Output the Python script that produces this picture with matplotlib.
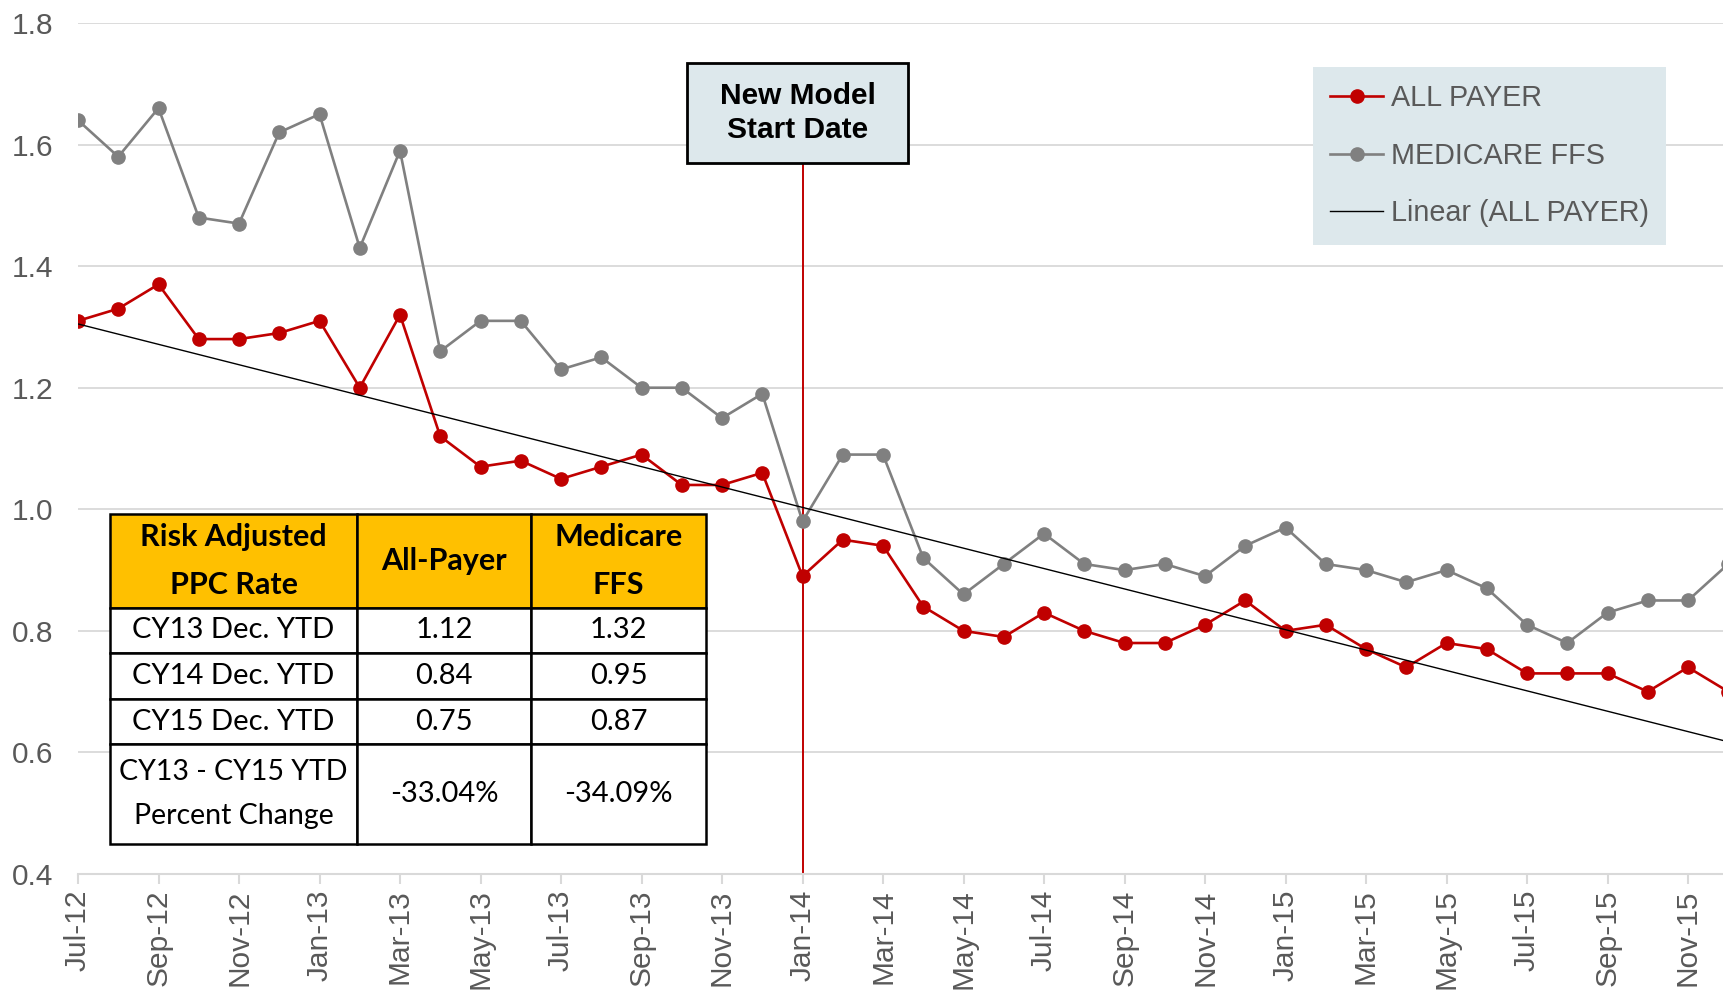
import numpy as np
import matplotlib
matplotlib.use("Agg")
import matplotlib.pyplot as plt
from matplotlib.patches import Rectangle
from matplotlib.lines import Line2D

# ---------------- data ----------------
months = ["Jul-12", "Aug-12", "Sep-12", "Oct-12", "Nov-12", "Dec-12",
          "Jan-13", "Feb-13", "Mar-13", "Apr-13", "May-13", "Jun-13",
          "Jul-13", "Aug-13", "Sep-13", "Oct-13", "Nov-13", "Dec-13",
          "Jan-14", "Feb-14", "Mar-14", "Apr-14", "May-14", "Jun-14",
          "Jul-14", "Aug-14", "Sep-14", "Oct-14", "Nov-14", "Dec-14",
          "Jan-15", "Feb-15", "Mar-15", "Apr-15", "May-15", "Jun-15",
          "Jul-15", "Aug-15", "Sep-15", "Oct-15", "Nov-15", "Dec-15"]

all_payer = [1.31, 1.33, 1.37, 1.28, 1.28, 1.29,
             1.31, 1.20, 1.32, 1.12, 1.07, 1.08, 1.05, 1.07, 1.09, 1.04, 1.04, 1.06,
             0.89, 0.95, 0.94, 0.84, 0.80, 0.79, 0.83, 0.80, 0.78, 0.78, 0.81, 0.85,
             0.80, 0.81, 0.77, 0.74, 0.78, 0.77, 0.73, 0.73, 0.73, 0.70, 0.74, 0.70]

medicare_ffs = [1.64, 1.58, 1.66, 1.48, 1.47, 1.62,
                1.65, 1.43, 1.59, 1.26, 1.31, 1.31, 1.23, 1.25, 1.20, 1.20, 1.15, 1.19,
                0.98, 1.09, 1.09, 0.92, 0.86, 0.91, 0.96, 0.91, 0.90, 0.91, 0.89, 0.94,
                0.97, 0.91, 0.90, 0.88, 0.90, 0.87, 0.81, 0.78, 0.83, 0.85, 0.85, 0.91]

y_ticks = [0.4, 0.6, 0.8, 1.0, 1.2, 1.4, 1.6, 1.8]
model_start = "Jan-14"

table_header = ["Risk Adjusted\nPPC Rate", "All-Payer", "Medicare\nFFS"]
table_row_labels = ["CY13 Dec. YTD", "CY14 Dec. YTD", "CY15 Dec. YTD",
                    "CY13 - CY15 YTD\nPercent Change"]
table_all_payer = ["1.12", "0.84", "0.75", "-33.04%"]
table_medicare = ["1.32", "0.95", "0.87", "-34.09%"]

# ---------------- style ----------------
W, H = 1723, 997
RED = "#C00000"
GRAY = "#808080"
TXT = "#595959"
GRID = "#D9D9D9"
PANEL = "#DDE8EC"
GOLD = "#FFC000"

plt.rcParams["font.family"] = ["Liberation Sans", "DejaVu Sans"]

fig = plt.figure(figsize=(W / 100, H / 100), dpi=100)

def fx(px):
    return px / W

def fy(py):
    return 1 - py / H

ax_left, ax_top, ax_bottom = 78, 23, 874
ax = fig.add_axes([fx(ax_left), fy(ax_bottom), 1 - fx(ax_left), (ax_bottom - ax_top) / H])

x = np.arange(len(months))
month_step = 40.25  # px per month
ax.set_xlim(0, (W - ax_left) / month_step)
ax.set_ylim(0.4, 1.8)

ax.yaxis.grid(True, color=GRID, lw=1.3)
ax.set_axisbelow(True)
for s in ["top", "right", "left"]:
    ax.spines[s].set_visible(False)
ax.spines["bottom"].set_color(GRID)
ax.spines["bottom"].set_linewidth(1.5)

ax.set_yticks(y_ticks)
ax.set_yticklabels([f"{v:.1f}" for v in y_ticks])
ax.tick_params(axis="y", length=0, pad=18, labelsize=21.5, labelcolor=TXT)

ax.set_xticks(x[::2])
ax.set_xticklabels(months[::2], rotation=90)
ax.tick_params(axis="x", length=7, width=1.5, color=GRID, pad=4,
               labelsize=21.5, labelcolor=TXT)

# series
ax.plot(x, medicare_ffs, color=GRAY, lw=1.9, marker="o", ms=9.5,
        mfc=GRAY, mec=GRAY, zorder=3, label="MEDICARE FFS")
ax.plot(x, all_payer, color=RED, lw=1.9, marker="o", ms=9.5,
        mfc=RED, mec=RED, zorder=4, label="ALL PAYER")

coef = np.polyfit(x, all_payer, 1)
xt = np.array([0, ax.get_xlim()[1]])
ax.plot(xt, np.polyval(coef, xt), color="black", lw=1.0, zorder=5)

# vertical marker line
box_l, box_t, box_r, box_b = 687, 63, 908, 163
ax.axvline(months.index(model_start), ymin=0,
           ymax=(ax_bottom - box_b) / (ax_bottom - ax_top), color=RED, lw=1.4, zorder=2)

# "New Model Start Date" box
fig.patches.append(Rectangle((fx(box_l), fy(box_b)), fx(box_r - box_l), (box_b - box_t) / H,
                             transform=fig.transFigure, facecolor=PANEL,
                             edgecolor="black", lw=2, zorder=10))
fig.text(fx((box_l + box_r) / 2), fy((box_t + box_b) / 2), "New Model\nStart Date",
         ha="center", va="center", fontsize=21.5, fontweight="bold",
         linespacing=1.25, color="black", zorder=11)

# legend
handles = [Line2D([], [], color=RED, lw=1.9, marker="o", ms=9.5),
           Line2D([], [], color=GRAY, lw=1.9, marker="o", ms=9.5),
           Line2D([], [], color="black", lw=1.0)]
labels = ["ALL PAYER", "MEDICARE FFS", "Linear (ALL PAYER)"]
leg = fig.legend(handles, labels, loc="upper left",
                 bbox_to_anchor=(fx(1313), fy(67)), bbox_transform=fig.transFigure,
                 frameon=True, fancybox=False, fontsize=20.7, labelcolor=TXT,
                 handlelength=1.85, handletextpad=0.25, labelspacing=1.03,
                 borderpad=0.6, borderaxespad=0)
leg.get_frame().set_facecolor(PANEL)
leg.get_frame().set_edgecolor("none")
leg.get_frame().set_alpha(1)

# table
cols = [110, 357, 531, 706]
rows = [514, 608, 653, 699, 744, 844]
tfont = ["Lato", "DejaVu Sans"]
tsize = 21

def cell(c, r, text, face, bold=False, size=tsize):
    x0, x1 = cols[c], cols[c + 1]
    y0, y1 = rows[r], rows[r + 1]
    fig.patches.append(Rectangle((fx(x0), fy(y1)), fx(x1 - x0), (y1 - y0) / H,
                                 transform=fig.transFigure, facecolor=face,
                                 edgecolor="black", lw=1.8, zorder=20))
    fig.text(fx((x0 + x1) / 2), fy((y0 + y1) / 2), text, ha="center", va="center",
             fontsize=size, family=tfont, fontweight="bold" if bold else "normal",
             linespacing=1.85, color="black", zorder=21)

for c, h in enumerate(table_header):
    cell(c, 0, h, GOLD, bold=True, size=22)
for r in range(len(table_row_labels)):
    cell(0, r + 1, table_row_labels[r], "white", size=(20.5 if r == 3 else tsize))
    cell(1, r + 1, table_all_payer[r], "white")
    cell(2, r + 1, table_medicare[r], "white")

fig.savefig("out.png", dpi=100, facecolor="white")
